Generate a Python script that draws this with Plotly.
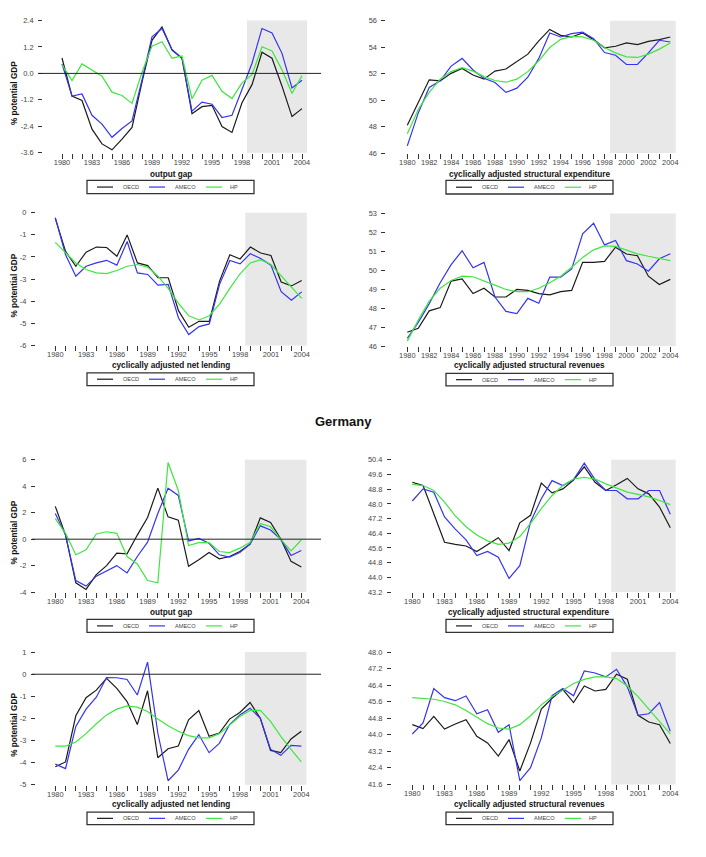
import plotly.graph_objects as go

years = list(range(1980, 2005))

# ---------- top block ----------
gap1_oecd = [0.7, -1.03, -1.23, -2.53, -3.2, -3.47, -2.98, -2.45, -0.4, 1.5, 2.11, 1.06, 0.69, -1.83, -1.51, -1.45, -2.41, -2.68, -1.33, -0.51, 0.96, 0.69, -0.58, -1.96, -1.6]
gap1_ameco = [0.43, -1.03, -0.93, -1.9, -2.3, -2.9, -2.5, -2.16, -0.3, 1.66, 2.04, 1.09, 0.69, -1.71, -1.3, -1.4, -2.0, -1.9, -0.73, 0.46, 2.04, 1.84, 0.91, -0.66, -0.31]
gap1_hp = [0.39, -0.33, 0.43, 0.16, -0.13, -0.85, -1.0, -1.36, 0.05, 1.24, 1.44, 0.69, 0.79, -1.15, -0.31, -0.09, -0.81, -1.14, -0.43, -0.06, 1.21, 1.02, 0.16, -0.91, -0.1]

exp1_oecd = [48.1, 49.8, 51.54, 51.46, 52.03, 52.4, 51.9, 51.59, 52.2, 52.36, 52.9, 53.48, 54.48, 55.35, 54.9, 54.78, 55.08, 54.58, 53.96, 54.08, 54.33, 54.2, 54.45, 54.58, 54.78]
exp1_ameco = [46.55, 49.04, 50.96, 51.46, 52.58, 53.16, 52.28, 51.66, 51.34, 50.59, 50.91, 51.74, 53.16, 55.08, 54.78, 55.03, 55.15, 54.65, 53.6, 53.4, 52.7, 52.7, 53.58, 54.53, 54.4]
exp1_hp = [47.47, 49.3, 50.59, 51.59, 52.16, 52.46, 52.2, 51.78, 51.49, 51.36, 51.59, 52.16, 52.98, 53.98, 54.6, 54.83, 54.78, 54.53, 53.98, 53.58, 53.28, 53.23, 53.48, 53.86, 54.33]

lend1_oecd = [-0.25, -1.75, -2.42, -1.78, -1.55, -1.57, -1.97, -1.0, -2.27, -2.39, -2.94, -2.94, -4.43, -5.18, -4.91, -4.91, -3.09, -1.9, -2.09, -1.55, -1.82, -1.93, -3.13, -3.31, -3.06]
lend1_ameco = [-0.22, -1.9, -2.87, -2.42, -2.27, -2.15, -2.37, -1.3, -2.72, -2.79, -3.27, -3.24, -4.76, -5.51, -5.15, -5.03, -3.24, -2.16, -2.31, -1.85, -2.07, -2.37, -3.57, -3.96, -3.58]
lend1_hp = [-1.34, -1.82, -2.27, -2.57, -2.72, -2.75, -2.61, -2.42, -2.34, -2.46, -2.87, -3.42, -4.1, -4.66, -4.85, -4.66, -4.13, -3.42, -2.76, -2.27, -2.12, -2.34, -2.87, -3.36, -3.87]

rev1_oecd = [46.73, 46.94, 47.86, 48.03, 49.43, 49.55, 48.77, 49.05, 48.59, 48.59, 48.99, 48.94, 48.77, 48.7, 48.87, 48.94, 50.42, 50.42, 50.47, 51.22, 50.86, 50.77, 49.69, 49.25, 49.52]
rev1_ameco = [46.41, 47.25, 48.24, 49.34, 50.3, 51.03, 50.13, 50.42, 48.59, 47.83, 47.72, 48.52, 48.26, 49.64, 49.64, 50.07, 51.92, 52.48, 51.34, 51.57, 50.51, 50.33, 49.95, 50.61, 50.87]
rev1_hp = [46.26, 47.37, 48.38, 49.05, 49.46, 49.69, 49.66, 49.46, 49.22, 48.99, 48.87, 48.87, 49.05, 49.34, 49.69, 50.16, 50.68, 51.08, 51.29, 51.26, 51.08, 50.87, 50.74, 50.61, 50.51]

# ---------- Germany ----------
gap2_oecd = [2.48, 0.31, -3.3, -3.8, -2.68, -2.0, -1.06, -1.11, 0.31, 1.64, 3.86, 1.69, 1.44, -2.05, -1.55, -1.01, -1.48, -1.31, -0.93, -0.38, 1.61, 1.26, 0.01, -1.68, -2.1]
gap2_ameco = [1.94, 0.31, -3.13, -3.55, -2.8, -2.38, -2.0, -2.55, -1.31, -0.23, 1.94, 3.86, 3.31, -0.13, 0.06, -0.31, -1.18, -1.36, -1.01, -0.38, 1.01, 0.69, -0.01, -1.23, -0.86]
gap2_hp = [1.56, 0.44, -1.18, -0.81, 0.39, 0.56, 0.44, -1.31, -1.88, -3.13, -3.3, 5.8, 3.68, -0.48, -0.26, -0.26, -0.93, -1.01, -0.68, -0.26, 1.19, 0.94, -0.01, -0.88, -0.06]

exp2_oecd = [49.18, 49.0, 47.47, 45.91, 45.8, 45.71, 45.41, 45.8, 46.16, 45.46, 46.97, 47.38, 49.14, 48.6, 48.82, 49.3, 50.02, 49.18, 48.73, 49.04, 49.39, 48.82, 48.55, 47.83, 46.7]
exp2_ameco = [48.16, 48.82, 48.64, 47.29, 46.63, 46.04, 45.19, 45.41, 45.1, 43.94, 44.64, 47.02, 48.28, 49.27, 49.0, 49.32, 50.22, 49.32, 48.73, 48.73, 48.28, 48.28, 48.73, 48.73, 47.44]
exp2_hp = [49.07, 49.0, 48.73, 48.1, 47.35, 46.76, 46.31, 45.99, 45.8, 45.86, 46.22, 46.94, 47.74, 48.46, 49.0, 49.36, 49.45, 49.36, 49.09, 48.86, 48.64, 48.52, 48.38, 48.19, 47.96]

lend2_oecd = [-4.19, -3.97, -1.88, -1.06, -0.72, -0.19, -0.64, -1.24, -2.28, -0.75, -3.78, -3.37, -3.25, -2.06, -1.64, -2.81, -2.66, -2.03, -1.73, -1.28, -1.99, -3.45, -3.55, -2.93, -2.58]
lend2_ameco = [-4.07, -4.27, -2.36, -1.58, -1.04, -0.15, -0.16, -0.24, -0.94, 0.55, -2.66, -4.82, -4.34, -3.4, -2.73, -3.55, -3.13, -2.28, -1.84, -1.54, -1.99, -3.4, -3.67, -3.22, -3.25]
lend2_hp = [-3.25, -3.25, -3.07, -2.69, -2.24, -1.84, -1.58, -1.43, -1.49, -1.69, -2.03, -2.33, -2.58, -2.78, -2.88, -2.88, -2.69, -2.28, -1.91, -1.64, -1.64, -2.13, -2.81, -3.4, -3.97]

rev2_oecd = [44.49, 44.3, 44.89, 44.28, 44.52, 44.73, 43.93, 43.61, 42.97, 43.77, 42.25, 43.61, 45.24, 45.77, 46.2, 45.56, 46.36, 46.12, 46.2, 46.93, 46.69, 44.94, 44.62, 44.49, 43.58]
rev2_ameco = [44.04, 44.57, 46.24, 45.8, 45.65, 45.88, 45.02, 45.21, 44.12, 44.49, 41.78, 42.41, 43.85, 45.89, 46.24, 45.89, 47.09, 46.99, 46.8, 47.17, 46.32, 44.94, 45.02, 45.56, 44.17]
rev2_hp = [45.8, 45.75, 45.72, 45.61, 45.45, 45.18, 44.84, 44.54, 44.33, 44.28, 44.49, 44.92, 45.45, 45.85, 46.16, 46.48, 46.68, 46.8, 46.8, 46.72, 46.36, 45.85, 45.24, 44.65, 44.04]

# tick values / labels
yt_gap1 = [-3.6, -2.4, -1.2, 0.0, 1.2, 2.4]
yl_gap1 = ["-3.6", "-2.4", "-1.2", "0.0", "1.2", "2.4"]
yt_exp1 = [46, 48, 50, 52, 54, 56]
yl_exp1 = ["46", "48", "50", "52", "54", "56"]
yt_lend1 = [-6, -5, -4, -3, -2, -1, 0]
yl_lend1 = ["-6", "-5", "-4", "-3", "-2", "-1", "0"]
yt_rev1 = [46, 47, 48, 49, 50, 51, 52, 53]
yl_rev1 = ["46", "47", "48", "49", "50", "51", "52", "53"]
yt_gap2 = [-4, -2, 0, 2, 4, 6]
yl_gap2 = ["-4", "-2", "0", "2", "4", "6"]
yt_exp2 = [43.2, 44.0, 44.8, 45.6, 46.4, 47.2, 48.0, 48.8, 49.6, 50.4]
yl_exp2 = ["43.2", "44.0", "44.8", "45.6", "46.4", "47.2", "48.0", "48.8", "49.6", "50.4"]
yt_lend2 = [-5, -4, -3, -2, -1, 0, 1]
yl_lend2 = ["-5", "-4", "-3", "-2", "-1", "0", "1"]
yt_rev2 = [41.6, 42.4, 43.2, 44.0, 44.8, 45.6, 46.4, 47.2, 48.0]
yl_rev2 = ["41.6", "42.4", "43.2", "44.0", "44.8", "45.6", "46.4", "47.2", "48.0"]

series_names = ["OECD", "AMECO", "HP"]
series_colors = ["#1a1a1a", "#3434f0", "#3ee63e"]

W, H = 706, 857
X0, X1 = 1978.1, 2005.9
FONT = "Liberation Sans, Arial, Helvetica, sans-serif"

panels = [
    dict(t="output gap", s=(gap1_oecd, gap1_ameco, gap1_hp), yt=yt_gap1, yl=yl_gap1, step=3,
         px=(62, 302), py=(16.7, 150.3), ylab=True, zero=38, tx=171, ty=172, lx=87, ly=(178.3, 191.7)),
    dict(t="cyclically adjusted structural expenditure", s=(exp1_oecd, exp1_ameco, exp1_hp), yt=yt_exp1, yl=yl_exp1, step=2,
         px=(407.3, 670.3), py=(17, 150.7), ylab=False, zero=None, tx=530, ty=172, lx=446, ly=(178.3, 192.0)),
    dict(t="cyclically adjusted net lending", s=(lend1_oecd, lend1_ameco, lend1_hp), yt=yt_lend1, yl=yl_lend1, step=3,
         px=(55.3, 301.7), py=(211, 345), ylab=True, zero=None, tx=170.5, ty=365, lx=87, ly=(372.7, 385.7)),
    dict(t="cyclically adjusted structural revenues", s=(rev1_oecd, rev1_ameco, rev1_hp), yt=yt_rev1, yl=yl_rev1, step=2,
         px=(407.3, 670.3), py=(211.7, 345.7), ylab=False, zero=None, tx=529, ty=365.7, lx=446, ly=(373.3, 386)),
    dict(t="output gap", s=(gap2_oecd, gap2_ameco, gap2_hp), yt=yt_gap2, yl=yl_gap2, step=3,
         px=(55.3, 301.3), py=(460.7, 594.3), ylab=True, zero=32, tx=170.5, ty=614.7, lx=87, ly=(622, 635)),
    dict(t="cyclically adjusted structural expenditure", s=(exp2_oecd, exp2_ameco, exp2_hp), yt=yt_exp2, yl=yl_exp2, step=3,
         px=(412.3, 670.3), py=(460.7, 594.3), ylab=False, zero=None, tx=529.3, ty=615, lx=446, ly=(622, 635)),
    dict(t="cyclically adjusted net lending", s=(lend2_oecd, lend2_ameco, lend2_hp), yt=yt_lend2, yl=yl_lend2, step=3,
         px=(55.3, 301.3), py=(655, 789), ylab=True, zero=32, tx=170.5, ty=809.3, lx=87, ly=(816.7, 829.3)),
    dict(t="cyclically adjusted structural revenues", s=(rev2_oecd, rev2_ameco, rev2_hp), yt=yt_rev2, yl=yl_rev2, step=3,
         px=(412.3, 670.3), py=(655, 788.7), ylab=False, zero=None, tx=529, ty=809.3, lx=446, ly=(816.7, 829.3)),
]

fig = go.Figure()
layout = dict(
    width=W, height=H, margin=dict(l=0, r=0, t=0, b=0),
    paper_bgcolor="white", plot_bgcolor="white", showlegend=False,
    font=dict(family=FONT, color="#333"),
)
shapes = []
annotations = []

def px_x(v):
    return v / W

def px_y(v):
    return 1 - v / H

for i, p in enumerate(panels):
    n = i + 1
    xa = "xaxis" if n == 1 else f"xaxis{n}"
    ya = "yaxis" if n == 1 else f"yaxis{n}"
    xr = "x" if n == 1 else f"x{n}"
    yr = "y" if n == 1 else f"y{n}"
    p1980, p2004 = p["px"]
    ppy = (p2004 - p1980) / 24.0
    left = p1980 - (1980 - X0) * ppy
    right = p2004 + (X1 - 2004) * ppy
    ytop, ybot = p["py"]
    ticktext = [str(y) if (y - 1980) % p["step"] == 0 else "" for y in years]
    layout[xa] = dict(
        domain=[px_x(left), px_x(right)], range=[X0, X1], anchor=yr,
        tickmode="array", tickvals=years, ticktext=ticktext,
        ticks="outside", ticklen=5, tickwidth=1, tickcolor="#333",
        showgrid=False, zeroline=False, showline=False,
        tickfont=dict(family=FONT, size=7.4, color="#444"),
        ticklabelstandoff=-3,
    )
    layout[ya] = dict(
        domain=[px_y(ybot), px_y(ytop)], range=[p["yt"][0], p["yt"][-1]], anchor=xr,
        tickmode="array", tickvals=p["yt"], ticktext=p["yl"],
        ticks="outside", ticklen=4, tickwidth=1, tickcolor="#333",
        showgrid=False, zeroline=False, showline=False,
        tickfont=dict(family=FONT, size=7.4, color="#444"),
        ticklabelstandoff=3,
    )
    # forecast shading
    shapes.append(dict(type="rect", xref=xr, yref=f"{yr} domain", x0=1998.5, x1=2004.5, y0=0, y1=1,
                       fillcolor="#e8e8e8", line=dict(width=0), layer="below"))
    if p["zero"] is not None:
        shapes.append(dict(type="line", xref="paper", yref=yr, x0=px_x(p["zero"]), x1=px_x(321),
                           y0=0, y1=0, line=dict(color="#222", width=1)))
    for vals, name, col in zip(p["s"], series_names, series_colors):
        fig.add_trace(go.Scatter(x=years, y=vals, mode="lines", name=name, xaxis=xr, yaxis=yr,
                                 line=dict(color=col, width=1.2), showlegend=False))
    # x-axis title
    annotations.append(dict(text=f"<b>{p['t']}</b>", xref="paper", yref="paper", x=px_x(p["tx"]), y=px_y(p["ty"]),
                            showarrow=False, xanchor="center", yanchor="middle",
                            font=dict(family=FONT, size=8.2, color="#111")))
    if p["ylab"]:
        annotations.append(dict(text="<b>% potential GDP</b>", xref="paper", yref="paper", x=px_x(14.5),
                                y=px_y((ytop + ybot) / 2 + 7), showarrow=False, textangle=-90,
                                xanchor="center", yanchor="middle",
                                font=dict(family=FONT, size=8.2, color="#111")))
    # legend box
    lx = p["lx"]
    ly0, ly1 = p["ly"]
    shapes.append(dict(type="rect", xref="paper", yref="paper", x0=px_x(lx), x1=px_x(lx + 167),
                       y0=px_y(ly1), y1=px_y(ly0), line=dict(color="#333", width=1.3), fillcolor="white"))
    ym = (ly0 + ly1) / 2
    for (a, b), tc, name, col in zip([(10, 26), (62, 78), (119, 135)], [44, 98, 147], series_names, series_colors):
        shapes.append(dict(type="line", xref="paper", yref="paper", x0=px_x(lx + a), x1=px_x(lx + b),
                           y0=px_y(ym), y1=px_y(ym), line=dict(color=col, width=1.2)))
        annotations.append(dict(text=name, xref="paper", yref="paper", x=px_x(lx + tc), y=px_y(ym),
                                showarrow=False, xanchor="center", yanchor="middle",
                                font=dict(family=FONT, size=5.6, color="#444")))

annotations.append(dict(text="<b>Germany</b>", xref="paper", yref="paper", x=px_x(343.5), y=px_y(422),
                        showarrow=False, xanchor="center", yanchor="middle",
                        font=dict(family=FONT, size=13, color="#111")))

layout["shapes"] = shapes
layout["annotations"] = annotations
fig.update_layout(**layout)
fig.write_html("out.html")
